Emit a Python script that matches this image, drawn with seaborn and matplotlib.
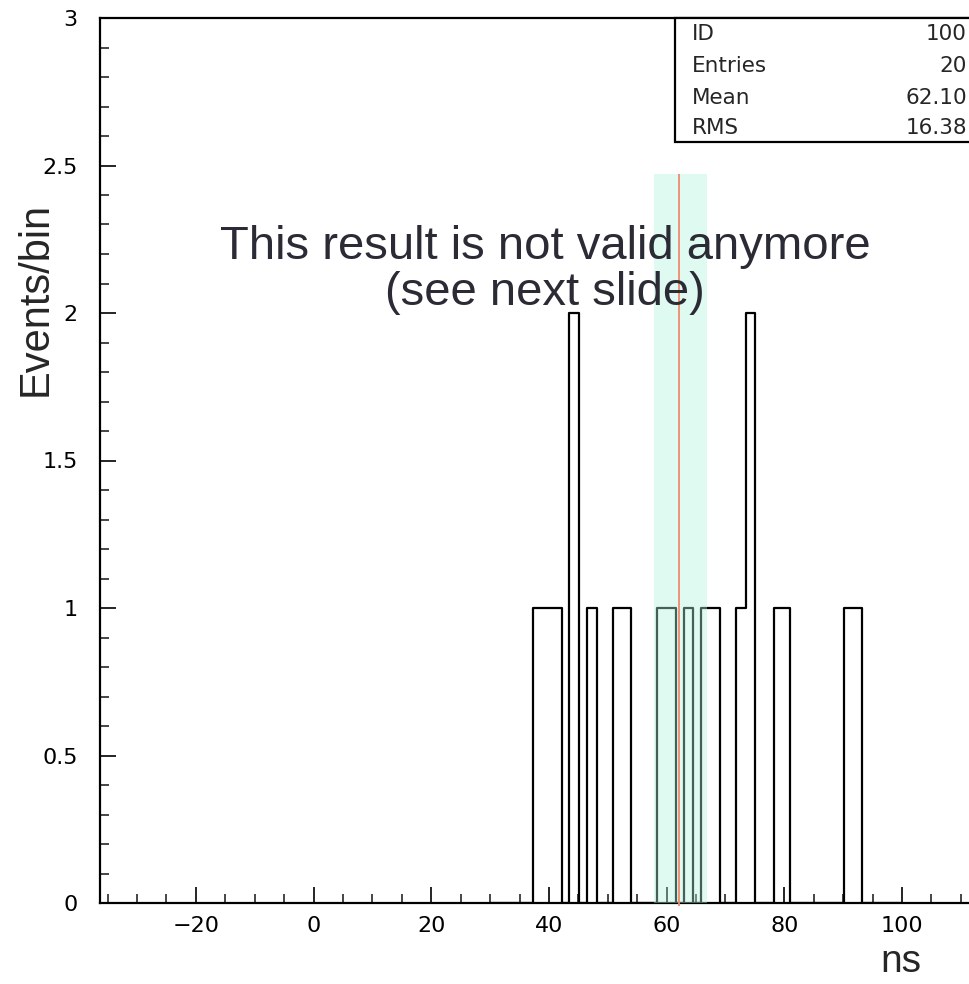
import numpy as np
import matplotlib
matplotlib.use("Agg")
import matplotlib.pyplot as plt
import seaborn as sns
from matplotlib.patches import Rectangle
from matplotlib.ticker import MultipleLocator, FuncFormatter

# ---- data ----
bin_edges = [30.0, 37.35, 42.16, 43.4, 45.1, 46.5, 48.2, 50.9, 54.0, 58.4, 61.6,
             63.0, 64.4, 65.9, 69.1, 71.8, 73.5, 75.1, 78.2, 81.0, 90.1, 93.2, 100.0]
bin_heights = [0, 1, 0, 2, 0, 1, 0, 1, 0, 1, 0, 1, 0, 1, 0, 1, 2, 0, 1, 0, 1, 0]
stats_labels = ["ID", "Entries", "Mean", "RMS"]
stats_values = ["100", "20", "62.10", "16.38"]
mean_ns = 62.1
band_range = [57.8, 66.8]
band_top = 2.47
x_tick_values = [-20, 0, 20, 40, 60, 80, 100]
y_tick_values = [0, 0.5, 1, 1.5, 2, 2.5, 3]

sns.set_style("white")
plt.rcParams['font.family'] = ['DejaVu Sans']

W, H = 970, 984
fig = plt.figure(figsize=(W / 100, H / 100), dpi=100)


def fx(px):
    return px / W


def fy(py):
    return 1 - py / H


ax = fig.add_axes([fx(100), fy(903), (972 - 100) / W, (903 - 18) / H])

edges = np.array(bin_edges)
centers = (edges[:-1] + edges[1:]) / 2
sns.histplot(x=centers, weights=bin_heights, bins=bin_edges, element="step",
             fill=False, color="black", linewidth=1.6, ax=ax, zorder=2)

ax.fill_between(band_range, 0, band_top, color="#aff3da", alpha=0.4, lw=0, zorder=3)
ax.vlines(mean_ns, -0.01, band_top, color="#f08a6c", lw=1.3, zorder=4, clip_on=False)

ax.set_xlim(-36.3, 111.9)
ax.set_ylim(0, 3)
ax.set_xlabel("")
ax.set_ylabel("")
ax.set_xticks(x_tick_values)
ax.set_yticks(y_tick_values)
ax.xaxis.set_minor_locator(MultipleLocator(5))
ax.yaxis.set_minor_locator(MultipleLocator(0.1))
ax.yaxis.set_major_formatter(FuncFormatter(lambda v, p: f"{v:g}"))
ax.xaxis.set_major_formatter(FuncFormatter(lambda v, p: f"{v:g}".replace("-", "\u2212")))
ax.tick_params(which="major", direction="in", length=11.5, width=1.2, labelsize=16,
               colors="black")
ax.tick_params(which="minor", direction="in", length=6.3, width=1.2)
ax.tick_params(axis="x", which="major", pad=9)
ax.tick_params(axis="y", which="major", pad=16)
ax.tick_params(axis="x", which="both", bottom=True, top=False)
ax.tick_params(axis="y", which="both", left=True, right=False)
for s in ["left", "bottom", "top"]:
    ax.spines[s].set_linewidth(1.6)
    ax.spines[s].set_color("black")
ax.spines["right"].set_visible(False)

# stats box
box = Rectangle((fx(675), fy(142)), (995 - 675) / W, (142 - 18) / H,
                transform=fig.transFigure, facecolor="white", edgecolor="black",
                lw=1.6, zorder=10, clip_on=False)
fig.patches.append(box)
row_y = [34, 66, 98, 128]
for lab, val, yy in zip(stats_labels, stats_values, row_y):
    fig.text(fx(692), fy(yy), lab, ha="left", va="center", fontsize=15.5, zorder=11)
    fig.text(fx(967), fy(yy), val, ha="right", va="center", fontsize=15.5, zorder=11)

# axis titles
fig.text(fx(36), fy(299), "Events/bin", rotation=90, ha="center", va="center",
         fontsize=30, family=["Liberation Sans", "DejaVu Sans"])
fig.text(fx(901), fy(962), "ns", ha="center", va="center",
         fontsize=28, family=["Liberation Sans", "DejaVu Sans"])

# overlay annotation
fig.text(fx(545), fy(247), "This result is not valid anymore", ha="center", va="center",
         fontsize=34, color="#2b2b36", family=["Liberation Sans", "DejaVu Sans"], zorder=12)
fig.text(fx(545), fy(293), "(see next slide)", ha="center", va="center",
         fontsize=34, color="#2b2b36", family=["Liberation Sans", "DejaVu Sans"], zorder=12)

fig.savefig("out.png", dpi=100)
